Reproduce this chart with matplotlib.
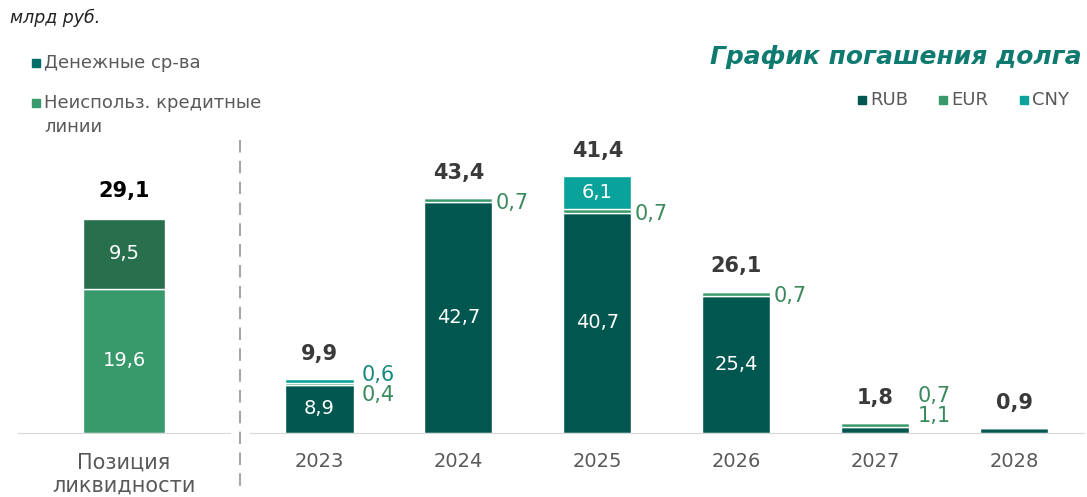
import matplotlib.pyplot as plt
from matplotlib.patches import Rectangle
from matplotlib.lines import Line2D

plt.rcParams['font.family'] = ['DejaVu Sans']

# debt repayment schedule, bn RUB
years = ['2023', '2024', '2025', '2026', '2027', '2028']
rub = [8.9, 42.7, 40.7, 25.4, 1.1, 0.9]
eur = [0.4, 0.7, 0.7, 0.7, 0.7, 0.0]
cny = [0.6, 0.0, 6.1, 0.0, 0.0, 0.0]
totals = ['9,9', '43,4', '41,4', '26,1', '1,8', '0,9']

# liquidity position
liq_label = 'Позиция\nликвидности'
liq_credit = 19.6
liq_cash = 9.5
liq_total = '29,1'

RUB_C = '#00574f'
EUR_C = '#38996a'
CNY_C = '#0aa39b'
CASH_C = '#28704d'
TXT_DARK = '#3a3a3a'
TICK_C = '#595959'
EUR_TXT = '#3b8a5e'
CNY_TXT = '#1a8a80'

def fmt(v):
    return ('%.1f' % v).replace('.', ',')

fig = plt.figure(figsize=(10.87, 4.97), dpi=100)

# --- left panel: liquidity ---
axl = fig.add_axes([0.0166, 0.1288, 0.195, 0.8712])
axl.bar(0, liq_credit, width=0.39, color=EUR_C, edgecolor='white', linewidth=1)
axl.bar(0, liq_cash, width=0.39, bottom=liq_credit, color=CASH_C, edgecolor='white', linewidth=1)
axl.text(0, liq_credit / 2, fmt(liq_credit), ha='center', va='center', color='white', fontsize=14)
axl.text(0, liq_credit + liq_cash / 2, fmt(liq_cash), ha='center', va='center', color='white', fontsize=14)
axl.annotate(liq_total, (0, liq_credit + liq_cash), xytext=(0, 13), textcoords='offset points',
             ha='center', va='bottom', fontsize=15, fontweight='bold', color='black')
axl.set_xlim(-0.5, 0.5)
axl.set_ylim(0, 58.9)
axl.set_xticks([0])
axl.set_xticklabels([liq_label], fontsize=15, color=TICK_C, linespacing=1.2)
axl.set_yticks([])
for s in ['top', 'right', 'left']:
    axl.spines[s].set_visible(False)
axl.spines['bottom'].set_color('#d9d9d9')
axl.tick_params(axis='x', length=0, pad=14)

# --- right panel: repayment schedule ---
ax = fig.add_axes([0.230, 0.1288, 0.767, 0.8712])
x = range(len(years))
w = 0.49
ax.bar(x, rub, width=w, color=RUB_C, edgecolor='white', linewidth=1)
ax.bar(x, eur, width=w, bottom=rub, color=EUR_C, edgecolor='white', linewidth=1)
bot2 = [r + e for r, e in zip(rub, eur)]
ax.bar(x, cny, width=w, bottom=bot2, color=CNY_C, edgecolor='white', linewidth=1)

for i in x:
    top = rub[i] + eur[i] + cny[i]
    # inner labels for big segments
    if rub[i] >= 5:
        ax.text(i, rub[i] / 2, fmt(rub[i]), ha='center', va='center', color='white', fontsize=14)
    if cny[i] >= 5:
        ax.text(i, bot2[i] + cny[i] / 2, fmt(cny[i]), ha='center', va='center', color='white', fontsize=14)
    # side labels for small segments
    side = []
    if cny[i] > 0 and cny[i] < 5:
        side.append((fmt(cny[i]), CNY_TXT))
    if eur[i] > 0:
        side.append((fmt(eur[i]), EUR_TXT))
    if 0 < rub[i] < 5 and eur[i] > 0:
        side.append((fmt(rub[i]), EUR_TXT))
    xr = i + w / 2
    if len(side) == 1:
        ax.annotate(side[0][0], (xr, rub[i] + eur[i] / 2), xytext=(2, -2), textcoords='offset points',
                    ha='left', va='center', fontsize=15, color=side[0][1])
    elif len(side) == 2:
        ya = max(top, 6)
        ax.annotate(side[0][0], (xr, ya), xytext=(6, -4), textcoords='offset points',
                    ha='left', va='bottom', fontsize=15, color=side[0][1])
        ax.annotate(side[1][0], (xr, ya), xytext=(6, -4), textcoords='offset points',
                    ha='left', va='top', fontsize=15, color=side[1][1])
    ax.annotate(totals[i], (i, top), xytext=(0, 11), textcoords='offset points',
                ha='center', va='bottom', fontsize=15, fontweight='bold', color=TXT_DARK)

ax.set_xlim(-0.5, 5.5)
ax.set_ylim(0, 80)
ax.set_xticks(list(x))
ax.set_xticklabels(years, fontsize=14, color=TICK_C)
ax.set_yticks([])
for s in ['top', 'right', 'left']:
    ax.spines[s].set_visible(False)
ax.spines['bottom'].set_color('#d9d9d9')
ax.tick_params(axis='x', length=0, pad=14)

# dashed separator
fig.add_artist(Line2D([240 / 1087, 240 / 1087], [1 - 140 / 497, 1 - 492 / 497],
                      color='#a6a6a6', linestyle=(0, (6, 4)), linewidth=1.5))

# titles and legends
fig.text(10 / 1087, 1 - 18 / 497, 'млрд руб.', fontsize=12.5, style='italic', color='#222222', va='center')
fig.text(1082 / 1087, 1 - 57 / 497, 'График погашения долга', fontsize=18, style='italic',
         fontweight='bold', color='#0f7a6f', ha='right', va='center')

def legend_item(px, py, label, color, fs):
    fig.add_artist(Rectangle((px / 1087, 1 - (py + 4) / 497), 8 / 1087, 8 / 497,
                             transform=fig.transFigure, color=color))
    fig.text((px + 12) / 1087, 1 - py / 497, label, fontsize=fs, color=TICK_C, va='center')

legend_item(32, 63, 'Денежные ср-ва', '#006e66', 13)
legend_item(32, 103, 'Неиспольз. кредитные', EUR_C, 13)
fig.text(44 / 1087, 1 - 127 / 497, 'линии', fontsize=13, color=TICK_C, va='center')

legend_item(858, 100, 'RUB', RUB_C, 13)
legend_item(939, 100, 'EUR', EUR_C, 13)
legend_item(1020, 100, 'CNY', CNY_C, 13)

fig.savefig('out.png', dpi=100)
